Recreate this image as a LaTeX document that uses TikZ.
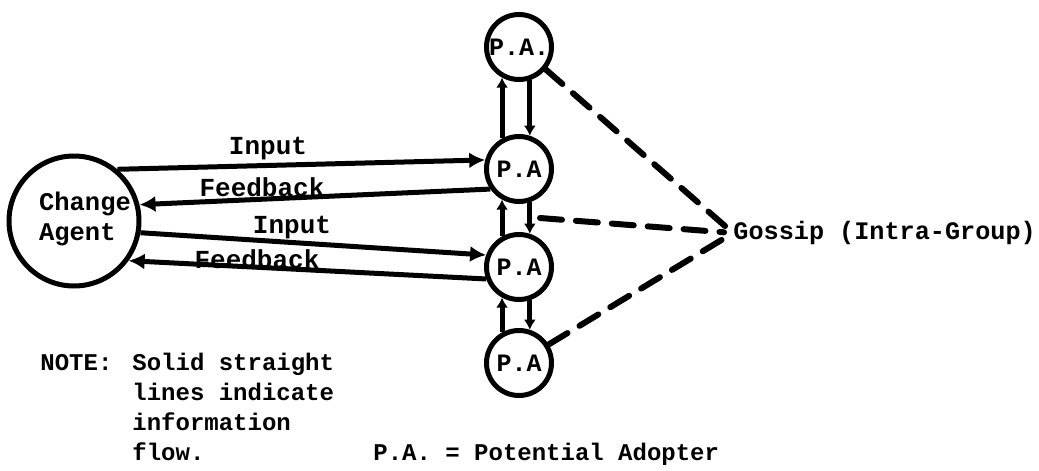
\documentclass[tikz,border=0pt]{standalone}
\usepackage{fontspec}
\setmonofont{Liberation Mono}
\usetikzlibrary{arrows.meta}
\begin{document}
\begin{tikzpicture}[x=0.5pt,y=-0.5pt,
  txt/.style={font=\ttfamily\bfseries\fontsize{12}{15}\selectfont, inner sep=0pt},
  gtxt/.style={font=\ttfamily\bfseries\fontsize{12.6}{15}\selectfont, inner sep=0pt},
  catxt/.style={font=\ttfamily\bfseries\fontsize{12.75}{15}\selectfont, inner sep=0pt, align=left},
  bigcirc/.style={circle, draw, line width=2.5pt, minimum size=65pt, inner sep=0pt},
  pacirc/.style={circle, draw, line width=2.5pt, minimum size=32.5pt, inner sep=0pt,
    font=\ttfamily\bfseries\fontsize{12.5}{14}\selectfont},
  infoflow/.style={line width=2.5pt, -{Latex[length=8pt,width=8pt]}},
  vflow/.style={line width=2.5pt, -{Latex[length=5pt,width=6pt]}},
  gossipline/.style={line width=3pt, dash pattern=on 11pt off 7pt, line cap=round, shorten >=4.5pt},
  lbl/.style={font=\ttfamily\bfseries\fontsize{13}{15}\selectfont, inner sep=0pt}]
\useasboundingbox (0,0) rectangle (1039,471);

% Change Agent
\node[bigcirc] (CA) at (74,221) {};
\node[catxt] (CAlabel) at (85,219) {Change\\Agent};

% Potential adopters
\node[pacirc] (PA1) at (519,47) {P.A.};
\node[pacirc] (PA2) at (519,169) {P.A};
\node[pacirc] (PA3) at (519,267) {P.A};
\node[pacirc] (PA4) at (519,363) {P.A};

% information flow
\draw[infoflow] (CA.50) -- (PA2.165);
\draw[infoflow] (PA2.215) -- (CA.14);
\draw[infoflow] (CA.-10) -- (PA3.160);
\draw[infoflow] (PA3.200) -- (CA.-36);

\node[lbl] (in1) at (268,149) {Input};
\node[lbl] (fb1) at (262,187) {Feedback};
\node[lbl] (in2) at (292,228) {Input};
\node[lbl] (fb2) at (257,259) {Feedback};

% vertical flow between adopters
\draw[vflow] (PA2.119) -- (PA1.241);
\draw[vflow] (PA1.288) -- (PA2.72);
\draw[vflow] (PA3.119) -- (PA2.241);
\draw[vflow] (PA2.288) -- (PA3.72);
\draw[vflow] (PA4.119) -- (PA3.241);
\draw[vflow] (PA3.288) -- (PA4.72);

% gossip
\node[gtxt, anchor=west] (G) at (733,233) {Gossip (Intra-Group)};
\coordinate (mid) at (540,218);
\draw[gossipline] (PA1.-40) -- (G.west);
\draw[gossipline] (mid) -- (G.west);
\draw[gossipline] (PA4.32) -- (G.west);

% notes
\node[txt, anchor=base west] (note) at (40,370) {NOTE:};
\node[txt, anchor=base west] (n1) at (132,370) {Solid straight};
\node[txt, anchor=base west] (n2) at (132,400) {lines indicate};
\node[txt, anchor=base west] (n3) at (132,430) {information};
\node[txt, anchor=base west] (n4) at (132,460) {flow.};
\node[txt, anchor=base west] (legend) at (373,460) {P.A. = Potential Adopter};
\end{tikzpicture}
\end{document}
